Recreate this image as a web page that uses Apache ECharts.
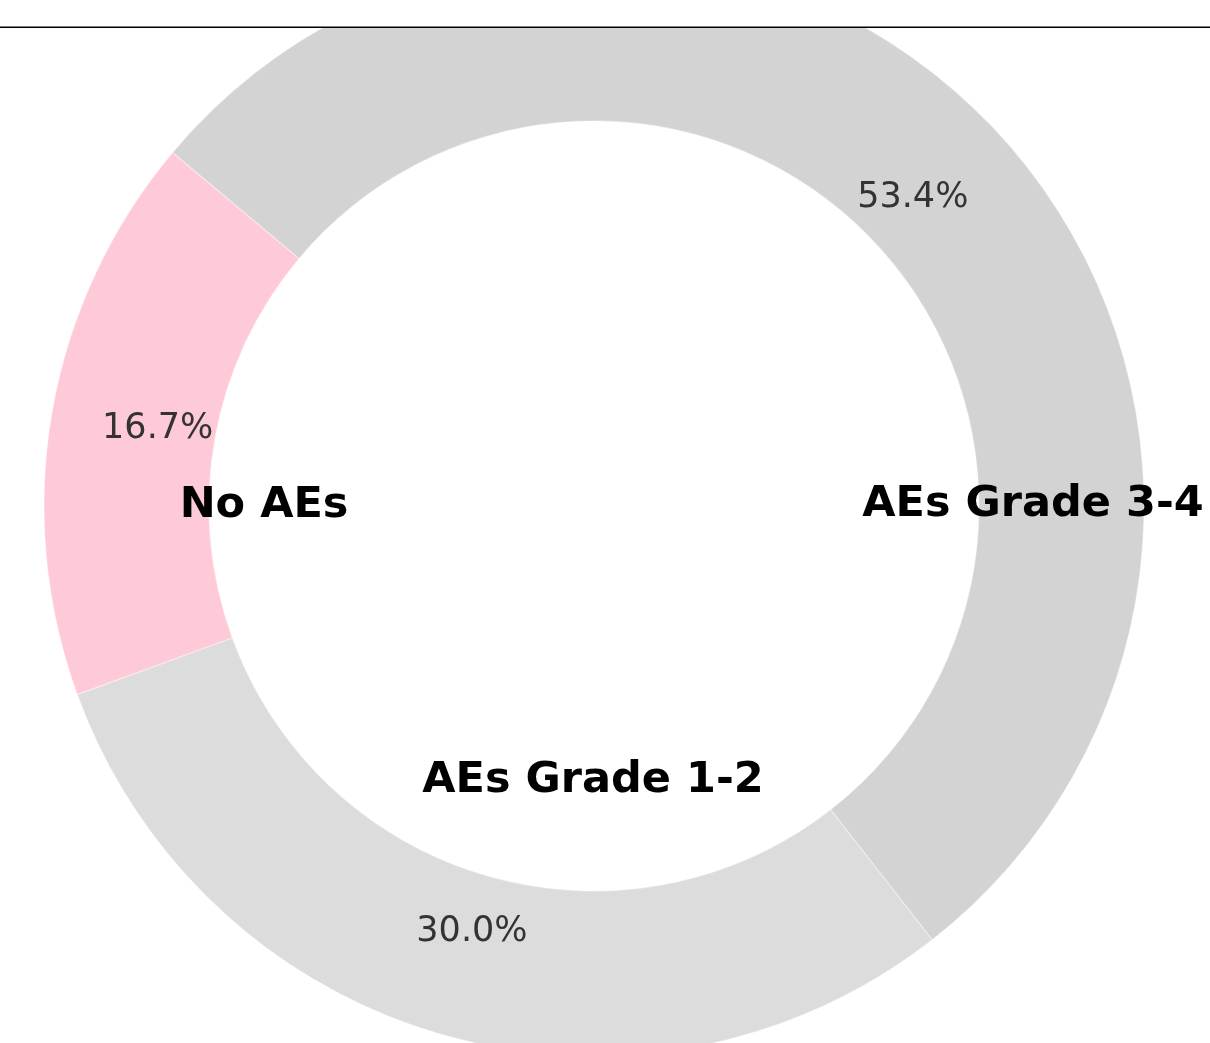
<!DOCTYPE html>
<html>
<head>
<meta charset="utf-8">
<script src="https://cdn.jsdelivr.net/npm/echarts@6/dist/echarts.min.js"></script>
<style>
  html, body { margin: 0; padding: 0; background: #fff; }
  #main { width: 1210px; height: 1043px; }
</style>
</head>
<body>
<div id="main"></div>
<script>
// data
const categories = ['No AEs', 'AEs Grade 1-2', 'AEs Grade 3-4']
const percents = [16.7, 30.0, 53.4]
const colors = ['#FFCAD7', '#DCDCDC', '#D3D3D3']

const FONT = 'DejaVu Sans'
let myChart = echarts.init(document.getElementById('main'))

let pieData = categories.map((name, i) => ({
  name: name,
  value: percents[i],
  itemStyle: { color: colors[i] }
}))

let option = {
  animation: false,
  series: [{
      // 环形图本体
      type: 'pie',
      center: [594, 506],
      radius: [385, 550],
      startAngle: 140,
      clockwise: false,
      avoidLabelOverlap: false,
      silent: true,
      itemStyle: {
        borderColor: 'rgba(255,255,255,0.35)',
        borderWidth: 1.2
      },
      label: { show: false },
      labelLine: { show: false },
      data: pieData
    },
    {
      // 百分比标签 (透明层, 标签落在 0.8 半径处)
      type: 'pie',
      center: [594, 506],
      radius: [330, 550],
      startAngle: 140,
      clockwise: false,
      avoidLabelOverlap: false,
      silent: true,
      z: 3,
      itemStyle: { color: 'rgba(0,0,0,0)', borderWidth: 0 },
      label: {
        show: true,
        position: 'inside',
        fontFamily: FONT,
        fontSize: 35,
        color: '#333333',
        formatter: p => p.value.toFixed(1) + '%'
      },
      labelLine: { show: false },
      data: categories.map((name, i) => ({ name: name, value: percents[i] }))
    }
  ],
  graphic: [
    // 顶部裁切区域和横线
    { type: 'rect', z: 100, shape: { x: 0, y: 0, width: 1210, height: 27 }, style: { fill: '#fff' } },
    { type: 'line', z: 101, shape: { x1: 0, y1: 27.25, x2: 1210, y2: 27.25 }, style: { stroke: '#000', lineWidth: 1.5 } },
    // 类别标签
    { type: 'text', z: 50, x: 264, y: 506, style: { text: categories[0], fontFamily: FONT, fontWeight: 'bold', fontSize: 43, fill: '#000', align: 'center', verticalAlign: 'middle' } },
    { type: 'text', z: 50, x: 593, y: 781, style: { text: categories[1], fontFamily: FONT, fontWeight: 'bold', fontSize: 43, fill: '#000', align: 'center', verticalAlign: 'middle' } },
    { type: 'text', z: 50, x: 1033, y: 505, style: { text: categories[2], fontFamily: FONT, fontWeight: 'bold', fontSize: 43, fill: '#000', align: 'center', verticalAlign: 'middle' } }
  ]
}
myChart.setOption(option)
</script>
</body>
</html>
